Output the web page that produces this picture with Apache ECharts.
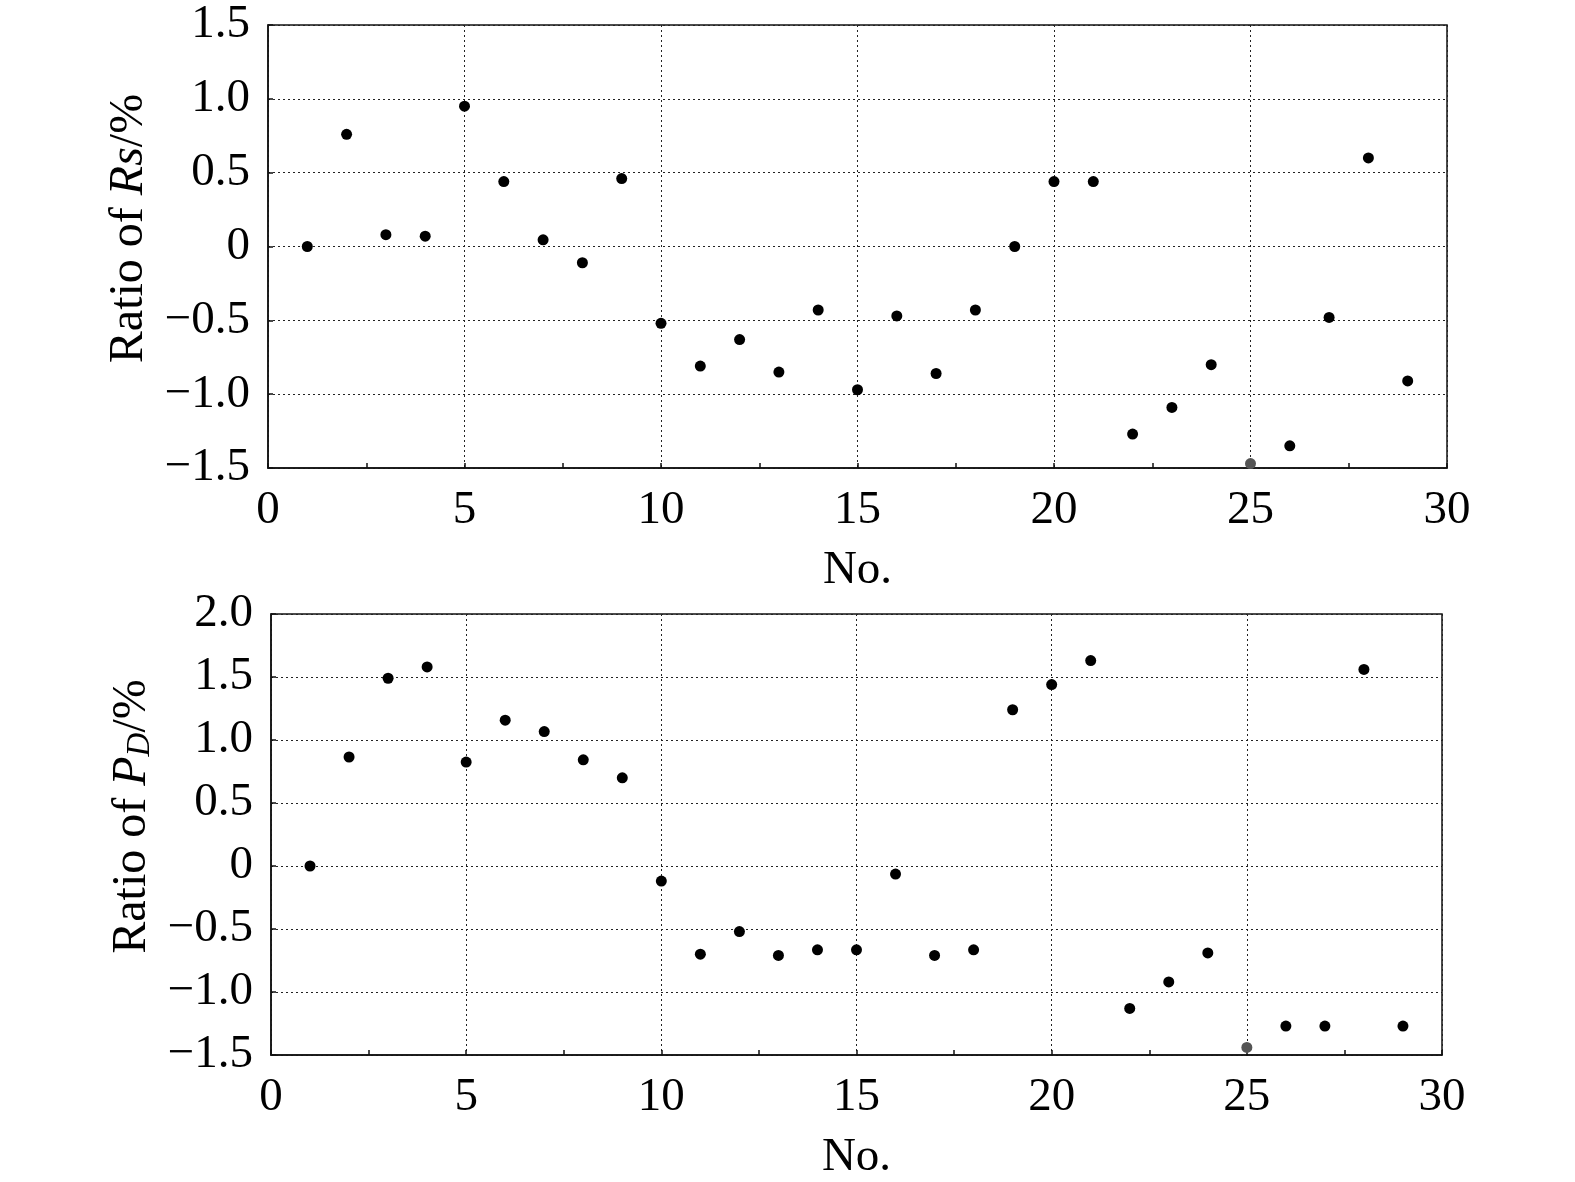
<!DOCTYPE html>
<html>
<head>
<meta charset="utf-8">
<title>Ratio of Rs and PD</title>
<script src="https://cdn.jsdelivr.net/npm/echarts@6/dist/echarts.min.js"></script>
<style>
    html, body { margin: 0; padding: 0; background: #fff; }
    #main { width: 1575px; height: 1182px; }
</style>
</head>
<body>
<div id="main"></div>
<script>
    // sample numbers
    var noList = [1, 2, 3, 4, 5, 6, 7, 8, 9, 10, 11, 12, 13, 14, 15, 16, 17, 18, 19, 20, 21, 22, 23, 24, 25, 26, 27, 28, 29];
    // ratio of Rs (%)
    var rsRatio = [0.00, 0.76, 0.08, 0.07, 0.95, 0.44, 0.045, -0.11, 0.46, -0.52, -0.81, -0.63, -0.85, -0.43, -0.97,
        -0.47, -0.86, -0.43, 0.00, 0.44, 0.44, -1.27, -1.09, -0.80, -1.47, -1.35, -0.48, 0.60, -0.91];
    // ratio of PD (%)
    var pdRatio = [0.00, 0.865, 1.49, 1.58, 0.825, 1.157, 1.067, 0.843, 0.70, -0.12, -0.70, -0.52, -0.71, -0.665, -0.665,
        -0.064, -0.71, -0.665, 1.24, 1.44, 1.63, -1.13, -0.92, -0.69, -1.44, -1.27, -1.27, 1.56, -1.27];
    var xTicks = [0, 30, 5];
    var rsTicks = [-1.5, 1.5, 0.5];
    var pdTicks = [-1.5, 2.0, 0.5];
    var greyIndex = 24; // No.25 drawn in grey

    var font = "'Liberation Serif', 'Times New Roman', serif";

    function pairs(xs, ys) {
        var out = [];
        for (var i = 0; i < xs.length; i++) {
            out.push([xs[i], ys[i]]);
        }
        return out;
    }

    function yLabel(v) {
        if (Math.abs(v) < 1e-9) return '0';
        var s = Math.abs(v).toFixed(1);
        return v < 0 ? '\u2212' + s : s;
    }

    function xAxisCfg(idx) {
        return {
            gridIndex: idx,
            type: 'value',
            min: xTicks[0],
            max: xTicks[1],
            interval: xTicks[2],
            name: 'No.',
            nameLocation: 'middle',
            nameGap: 79,
            nameTextStyle: { fontFamily: font, fontSize: 47, color: '#000' },
            axisLine: { show: true, onZero: false, lineStyle: { color: '#111', width: 1.5 } },
            axisTick: { show: true, inside: true, length: 5, lineStyle: { color: '#111', width: 1.5 } },
            minorTick: { show: true, splitNumber: 2, length: 5, lineStyle: { color: '#111', width: 1.5 } },
            axisLabel: { fontFamily: font, fontSize: 47, color: '#000', margin: 19 },
            splitLine: { show: true, lineStyle: { color: '#222', type: [2, 3], width: 1 } }
        };
    }

    function yAxisCfg(idx, ticks, name) {
        return {
            gridIndex: idx,
            type: 'value',
            min: ticks[0],
            max: ticks[1],
            interval: ticks[2],
            name: name,
            nameLocation: 'middle',
            nameGap: 104,
            nameTextStyle: {
                fontFamily: font, fontSize: 48, color: '#000',
                padding: [0, 0, 0, 36],
                rich: {
                    n: { fontFamily: font, fontSize: 48, color: '#000' },
                    i: { fontFamily: font, fontSize: 48, color: '#000', fontStyle: 'italic' },
                    sub: { fontFamily: font, fontSize: 33, color: '#000', fontStyle: 'italic', verticalAlign: 'bottom', lineHeight: 22 }
                }
            },
            axisLine: { show: true, onZero: false, lineStyle: { color: '#111', width: 1.5 } },
            axisTick: { show: true, inside: true, length: 5, lineStyle: { color: '#111', width: 1.5 } },
            axisLabel: { fontFamily: font, fontSize: 47, color: '#000', margin: 18, formatter: yLabel },
            splitLine: { show: true, lineStyle: { color: '#222', type: [2, 3], width: 1 } }
        };
    }

    function dotColor(p) {
        return p.dataIndex === greyIndex ? '#555' : '#000';
    }

    var myChart = echarts.init(document.getElementById('main'), null, { renderer: 'canvas' });
    myChart.setOption({
        animation: false,
        backgroundColor: '#fff',
        grid: [
            { left: 268, top: 25, width: 1179, height: 443, show: true, borderColor: '#111', borderWidth: 1.5, backgroundColor: 'transparent' },
            { left: 271, top: 614, width: 1171, height: 441, show: true, borderColor: '#111', borderWidth: 1.5, backgroundColor: 'transparent' }
        ],
        xAxis: [xAxisCfg(0), xAxisCfg(1)],
        yAxis: [
            yAxisCfg(0, rsTicks, '{n|Ratio of }{i|Rs}{n|/%}'),
            yAxisCfg(1, pdTicks, '{n|Ratio of }{i|P}{sub|D}{n|/%}')
        ],
        series: [
            {
                name: 'Rs',
                type: 'scatter',
                xAxisIndex: 0,
                yAxisIndex: 0,
                symbol: 'circle',
                symbolSize: 11,
                clip: false,
                itemStyle: { color: dotColor, opacity: 1 },
                data: pairs(noList, rsRatio)
            },
            {
                name: 'PD',
                type: 'scatter',
                xAxisIndex: 1,
                yAxisIndex: 1,
                symbol: 'circle',
                symbolSize: 11,
                clip: false,
                itemStyle: { color: dotColor, opacity: 1 },
                data: pairs(noList, pdRatio)
            }
        ]
    });
</script>
</body>
</html>
